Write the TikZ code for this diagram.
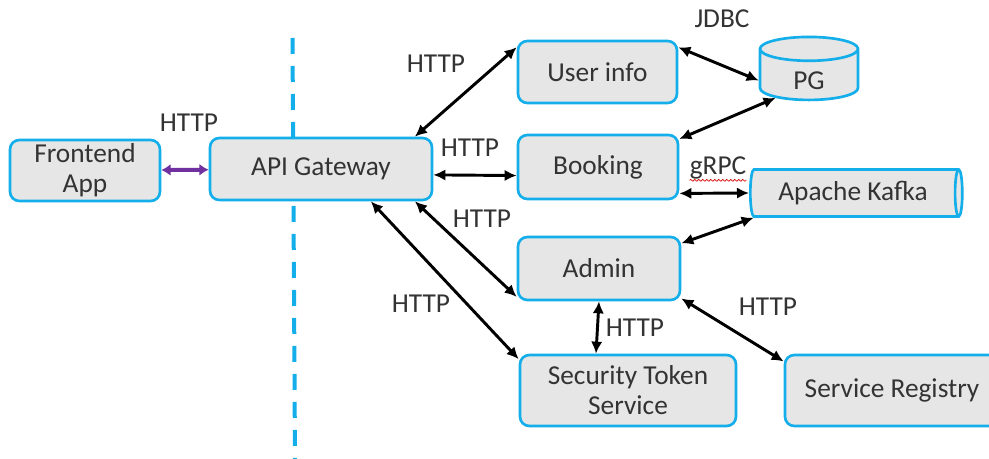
\documentclass[tikz,border=0pt]{standalone}
\usepackage{fontspec}
\setmainfont{Carlito}
\usetikzlibrary{shapes.geometric,arrows.meta,decorations.pathmorphing}

\definecolor{edgeblue}{HTML}{14AEEA}
\definecolor{boxfill}{HTML}{E6E6E6}
\definecolor{inkgray}{HTML}{333333}
\definecolor{linkpurple}{HTML}{7030A0}

\tikzset{
   box/.style={draw=edgeblue, fill=boxfill, line width=2pt, rounded corners=7pt,
      align=center, text=inkgray, inner sep=2pt},
   tank/.style={cylinder, draw=edgeblue, fill=boxfill, line width=2pt,
      text=inkgray, inner sep=2pt},
   link/.style={line width=2.2pt, {Latex[length=9pt,width=8.5pt]}-{Latex[length=9pt,width=8.5pt]}},
   proto/.style={text=inkgray, anchor=base, inner sep=0pt}
}

\begin{document}
\begin{tikzpicture}[x=0.75pt, y=-0.75pt, font=\fontsize{20.5}{22.5}\selectfont]
      \useasboundingbox (0,0) rectangle (989,459);
      % dashed split between client and backend
      \coordinate (splittop) at (292.5,38);
      \coordinate (splitbot) at (295,459);
      \draw[edgeblue, line width=3pt, dash pattern=on 12pt off 9pt] (splittop) -- (splitbot);
      \def \Boxes {
         front/85/170.5/150/61/{Frontend\\App},
         gw/321/169/222/62/API Gateway,
         user/597.5/72/159/62/User info,
         booking/598/167/160/64/Booking,
         admin/599/268.5/162/63/Admin,
         sts/628/390.5/216/71/{Security Token\\Service},
         reg/892/390.5/214/71/Service Registry}
      \def \Links {
         gw.19/user.163,
         gw.-3/booking.186,
         gw.-19/admin.199,
         gw.-33/sts.164,
         user.17/pg.184,
         booking.19/pg.212,
         booking.-18/kafka.180,
         admin.17/kafka.194,
         admin.-90/sts.131,
         admin.-20/reg.165}
      \def \Protos {
         pfront/189/132/HTTP,
         puser/436/73/HTTP,
         pbooking/470/157/HTTP,
         padmin/482/228/HTTP,
         psts/421/313/HTTP,
         pjdbc/722/28/JDBC,
         pgrpc/718/175/gRPC,
         ptoken/635/337/HTTP,
         preg/768/316/HTTP}
      \foreach \n / \x / \y / \w / \h / \t in \Boxes {
         \node[box, minimum width=\w*0.75pt, minimum height=\h*0.75pt] (\n) at (\x, \y) {\t};
      }
      \node[tank, shape border rotate=90, shape aspect=0.65,
         minimum width=98*0.75pt, minimum height=63*0.75pt] (pg) at (809, 77)
         {\raisebox{-2pt}[0.7em][0pt]{PG}};
      \node[tank, shape aspect=0.25,
         minimum width=47*0.75pt, minimum height=212*0.75pt] (kafka) at (853, 193) {Apache Kafka};
      \draw[linkpurple, line width=3pt, {Latex[length=7pt,width=9pt]}-{Latex[length=7pt,width=9pt]}]
         (front) -- (gw);
      \foreach \u / \v in \Links {
         \path[draw, link] (\u) -- (\v);
      }
      \foreach \n / \x / \y / \t in \Protos {
         \node[proto] (\n) at (\x, \y) {\t};
      }
      % spell-check underline
      \draw[red!85!black, line width=0.5pt, decorate,
         decoration={snake, amplitude=0.7pt, segment length=3pt}]
         ([yshift=-4pt]pgrpc.base west) -- ([yshift=-4pt]pgrpc.base east);
   \end{tikzpicture}
\end{document}
